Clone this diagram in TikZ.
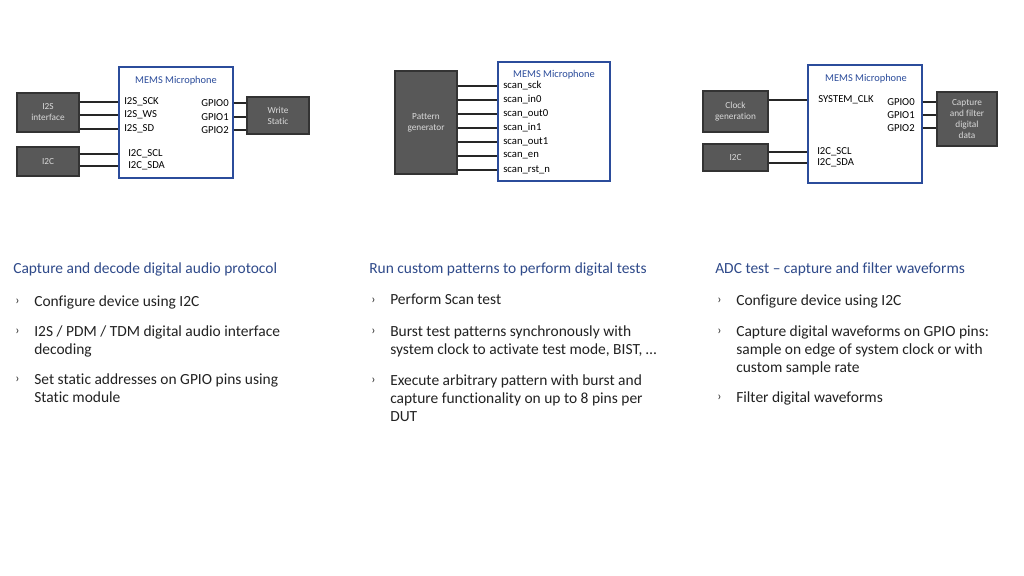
\documentclass[tikz,border=0pt]{standalone}
\usepackage{fontspec}
\setmainfont{Carlito}[Ligatures={NoCommon,TeX}]
\usetikzlibrary{positioning}
\definecolor{memsblue}{HTML}{2B4C9B}
\definecolor{titleblue}{HTML}{2F4A8A}
\definecolor{boxgray}{HTML}{585858}
\definecolor{boxtext}{HTML}{DADADA}
\definecolor{bodytext}{HTML}{222222}

\begin{document}
\begin{tikzpicture}[x=0.025cm,y=-0.025cm,
  mems/.style={draw=memsblue,line width=0.9pt,fill=white,inner sep=0pt},
  blk/.style={draw=black!80,line width=0.8pt,fill=boxgray,text=boxtext,
    font=\fontsize{6.6}{7.8}\selectfont,align=center,inner sep=0pt},
  memstitle/.style={text=memsblue,font=\fontsize{7.4}{8}\selectfont,inner sep=0pt},
  pin/.style={font=\fontsize{7.6}{8}\selectfont,inner sep=0pt,text=black},
  wire/.style={draw=black!85,line width=0.8pt},
  head/.style={anchor=west,text=titleblue,font=\fontsize{11}{13}\selectfont,inner sep=0pt},
  item/.style={anchor=north west,align=left,text=bodytext,font=\fontsize{11}{12.8}\selectfont,inner sep=0pt},
  chev/.style={anchor=west,text=bodytext,font=\fontsize{9}{10}\selectfont,inner sep=0pt}]

 \useasboundingbox[fill=white] (0,0) rectangle (1024,576);

 % first diagram -- I2S decoding
 \node[mems, minimum width=2.85cm, minimum height=2.775cm] (mems1) at (176,122.5) {};
 \node[memstitle] (t1) at (176,81) {MEMS Microphone};
 \node[blk, minimum width=1.55cm, minimum height=0.975cm] (i2s) at (48,112.5) {I2S\\interface};
 \node[blk, minimum width=1.55cm, minimum height=0.725cm] (i2ca) at (48,161.5) {I2C};
 \node[blk, minimum width=1.55cm, minimum height=0.925cm] (wstat) at (278,115.5) {Write\\Static};
 \foreach \n/\t/\y in {sck/I2S\_SCK/102, ws/I2S\_WS/115, sd/I2S\_SD/129} {
 \node[pin, anchor=west] (\n) at (124,\y) {\t};
 \draw[wire] (i2s.east |- \n.west) -- (mems1.west |- \n.west);
 }
 \foreach \n/\t/\y in {scla/I2C\_SCL/154, sdaa/I2C\_SDA/166} {
 \node[pin, anchor=west] (\n) at (128,\y) {\t};
 \draw[wire] (i2ca.east |- \n.west) -- (mems1.west |- \n.west);
 }
 \foreach \i/\y in {0/103, 1/117, 2/130} {
 \node[pin, anchor=east] (ga\i) at (229,\y) {GPIO\i};
 \draw[wire] (mems1.east |- ga\i.east) -- (wstat.west |- ga\i.east);
 }

 % second diagram -- scan chain
 \node[mems, minimum width=2.8cm, minimum height=2.975cm] (mems2) at (554,121.5) {};
 \node[memstitle] (t2) at (554,75) {MEMS Microphone};
 \node[blk, minimum width=1.55cm, minimum height=2.575cm] (patgen) at (426,122.5) {Pattern\\generator};
 \foreach \n/\t/\y in {ssck/scan\_sck/86, sin0/scan\_in0/100, sout0/scan\_out0/114,
   sin1/scan\_in1/128, sout1/scan\_out1/142, sen/scan\_en/156, srst/scan\_rst\_n/170} {
 \node[pin, anchor=west] (\n) at (503,\y) {\t};
 \draw[wire] (patgen.east |- \n.west) -- (mems2.west |- \n.west);
 }

 % third diagram -- waveform capture
 \node[mems, minimum width=2.85cm, minimum height=2.95cm] (mems3) at (865,124) {};
 \node[memstitle] (t3) at (866,79) {MEMS Microphone};
 \node[blk, minimum width=1.625cm, minimum height=1.025cm] (clkgen) at (735.5,111.5) {Clock\\generation};
 \node[blk, minimum width=1.625cm, minimum height=0.675cm] (i2cc) at (735.5,157.5) {I2C};
 \node[blk, minimum width=1.5cm, minimum height=1.35cm] (capt) at (967,119) {Capture\\and filter\\digital\\data};
 \node[pin, anchor=west] (sclk) at (818,100) {SYSTEM\_CLK};
 \draw[wire] (clkgen.east |- sclk.west) -- (mems3.west |- sclk.west);
 \foreach \n/\t/\y in {sclc/I2C\_SCL/152, sdac/I2C\_SDA/163} {
 \node[pin, anchor=west] (\n) at (817,\y) {\t};
 \draw[wire] (i2cc.east |- \n.west) -- (mems3.west |- \n.west);
 }
 \foreach \i/\y in {0/102, 1/115, 2/128} {
 \node[pin, anchor=east] (gc\i) at (915,\y) {GPIO\i};
 \draw[wire] (mems3.east |- gc\i.east) -- (capt.west |- gc\i.east);
 }

 % the texts below
 \node[head] (h1) at (13,269) {Capture and decode digital audio protocol};
 \node[head] (h2) at (369,269) {Run custom patterns to perform digital tests};
 \node[head] (h3) at (715,269) {ADC test -- capture and filter waveforms};

 \foreach \x/\y/\t [count=\k] in {
   34/300/{Configure device using I2C},
   34/330/{I2S / PDM / TDM digital audio interface\\decoding},
   34/378/{Set static addresses on GPIO pins using\\Static module},
   390/299/{Perform Scan test},
   390/330/{Burst test patterns synchronously with\\system clock to activate test mode, BIST, …},
   390/379/{Execute arbitrary pattern with burst and\\capture functionality on up to 8 pins per\\DUT},
   736/299/{Configure device using I2C},
   736/330/{Capture digital waveforms on GPIO pins:\\sample on edge of system clock or with\\custom sample rate},
   736/396/{Filter digital waveforms}} {
 \node[chev] (bul\k) at (\x-19,\y+2) {›};
 \node[item] (itm\k) at (\x,\y-5) {\t};
 }

\end{tikzpicture}
\end{document}
